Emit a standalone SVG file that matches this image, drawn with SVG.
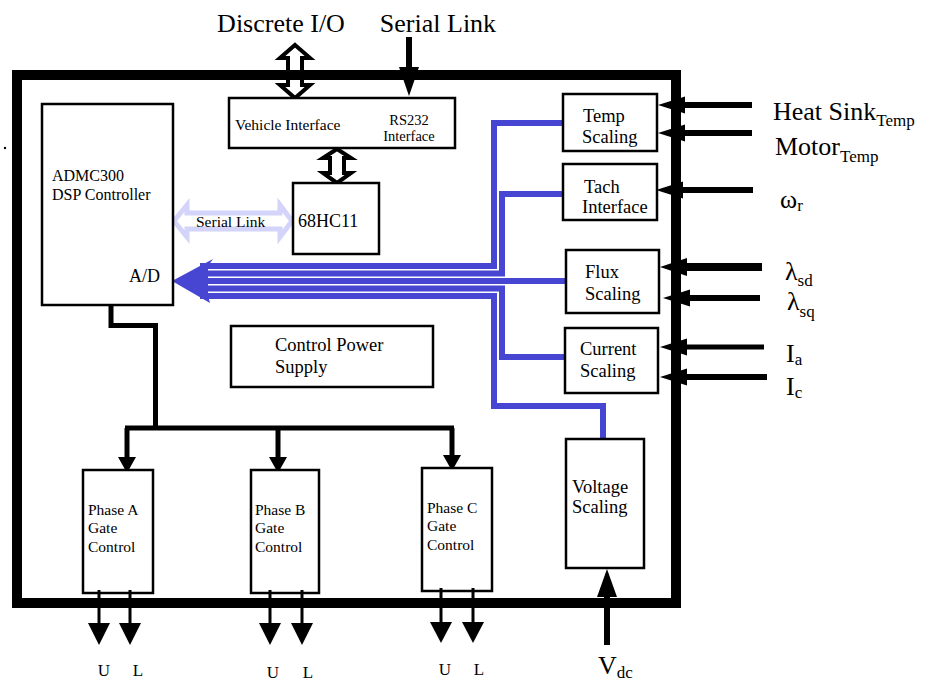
<svg xmlns="http://www.w3.org/2000/svg" width="925" height="684" viewBox="0 0 925 684">
<style>
text{font-family:"Liberation Serif","Times New Roman",serif;fill:#000}
.box{fill:#fff;stroke:#000;stroke-width:2.5}
.bl{fill:none;stroke:#4646d2;stroke-width:6}
.k{fill:none;stroke:#000}
.h{fill:#000}
.t15{font-size:15.5px}
.t14{font-size:14.5px}
.t18{font-size:18.5px}
.big{font-size:26px}
.sub{font-size:17px}
</style>
<rect width="925" height="684" fill="#fff"/>
<circle cx="5" cy="148" r="1.2" fill="#000"/>

<!-- top labels -->
<text class="big" x="281" y="32" text-anchor="middle">Discrete I/O</text>
<text class="big" x="438" y="32" text-anchor="middle">Serial Link</text>

<g id="connectors">
  <!-- hollow double arrows -->
  <path d="M295,45 L310,58 L302,58 L302,85 L310,85 L295,98 L280,85 L288,85 L288,58 L280,58 Z" fill="#fff" stroke="#000" stroke-width="4" stroke-linejoin="miter"/>
  <path d="M337,149 L351,158 L344,158 L344,173 L351,173 L337,183 L323,173 L330,173 L330,158 L323,158 Z" fill="#fff" stroke="#000" stroke-width="4"/>
  <!-- serial link in -->
  <line class="k" x1="409" y1="37" x2="409" y2="68" stroke-width="6"/>
  <polygon class="h" points="399,67 419,67 409,96"/>
  <!-- light serial link -->
  <path d="M174,221 L187,205 L187,213 L280,213 L280,205 L292,221 L280,237 L280,229 L187,229 L187,237 Z" fill="#fff" stroke="#d4d4fa" stroke-width="5"/>
  <!-- blue bus -->
  <polygon points="172,281 213,259 208,266 208,296 210,303" fill="#4646d2"/>
  <polyline class="bl" points="563,123 494,123 494,266 200,266"/>
  <polyline class="bl" points="563,194 502,194 502,273.5 200,273.5"/>
  <polyline class="bl" points="566,281 200,281"/>
  <polyline class="bl" points="200,288.5 502,288.5 502,357 566,357"/>
  <polyline class="bl" points="200,296 494,296 494,406 603,406 603,439"/>
  <!-- control tree -->
  <polyline class="k" stroke-width="5" points="111,305 111,325.5 155.5,325.5 155.5,428"/>
  <line class="k" stroke-width="5" x1="125" y1="428" x2="454" y2="428"/>
  <line class="k" stroke-width="5" x1="127" y1="428" x2="127" y2="458"/>
  <line class="k" stroke-width="5" x1="278" y1="428" x2="278" y2="458"/>
  <line class="k" stroke-width="5" x1="452" y1="428" x2="452" y2="456"/>
  <polygon class="h" points="118,457 136,457 127,473"/>
  <polygon class="h" points="269,457 287,457 278,473"/>
  <polygon class="h" points="443,455 461,455 452,471"/>
</g>

<!-- outer frame -->
<rect x="17" y="75" width="659" height="528" fill="none" stroke="#000" stroke-width="10"/>

<g id="vehicle-interface">
  <rect class="box" x="229" y="98" width="226" height="50"/>
  <text class="t15" x="235" y="130">Vehicle Interface</text>
  <text class="t14" x="409" y="125" text-anchor="middle">RS232</text>
  <text class="t14" x="409" y="141" text-anchor="middle">Interface</text>
</g>
<g id="admc300">
  <rect class="box" x="42" y="104" width="131" height="201"/>
  <text style="font-size:16px" x="52" y="181">ADMC300</text>
  <text style="font-size:16px" x="52" y="200">DSP Controller</text>
  <text style="font-size:18px" x="129" y="282">A/D</text>
</g>
<g id="hc11">
  <rect class="box" x="293" y="183" width="86" height="71"/>
  <text style="font-size:18px" x="298" y="227">68HC11</text>
</g>
<text class="t15" x="196" y="227">Serial Link</text>

<g id="temp-scaling">
  <rect class="box" x="563" y="94" width="94" height="57"/>
  <text class="t18" x="583" y="122">Temp</text>
  <text class="t18" x="582" y="143">Scaling</text>
</g>
<g id="tach-interface">
  <rect class="box" x="563" y="164" width="94" height="56"/>
  <text class="t18" x="584" y="193">Tach</text>
  <text class="t18" x="582" y="213">Interface</text>
</g>
<g id="flux-scaling">
  <rect class="box" x="566" y="250" width="93" height="63"/>
  <text class="t18" x="585" y="278">Flux</text>
  <text class="t18" x="585" y="300">Scaling</text>
</g>
<g id="current-scaling">
  <rect class="box" x="565" y="328" width="93" height="65"/>
  <text class="t18" x="580" y="355">Current</text>
  <text class="t18" x="580" y="377">Scaling</text>
</g>
<g id="voltage-scaling">
  <rect class="box" x="566" y="439" width="78" height="129"/>
  <text class="t18" x="572" y="493">Voltage</text>
  <text class="t18" x="572" y="513">Scaling</text>
</g>
<g id="control-power">
  <rect class="box" x="231" y="326" width="202" height="61"/>
  <text class="t18" x="275" y="351">Control Power</text>
  <text class="t18" x="275" y="373">Supply</text>
</g>
<g id="phase-a">
  <rect class="box" x="83" y="470" width="70" height="123"/>
  <text class="t15" x="88" y="515">Phase A</text>
  <text class="t15" x="88" y="533">Gate</text>
  <text class="t15" x="88" y="552">Control</text>
</g>
<g id="phase-b">
  <rect class="box" x="251" y="470" width="68" height="123"/>
  <text class="t15" x="255" y="515">Phase B</text>
  <text class="t15" x="255" y="533">Gate</text>
  <text class="t15" x="255" y="552">Control</text>
</g>
<g id="phase-c">
  <rect class="box" x="422" y="468" width="70" height="123"/>
  <text class="t15" x="427" y="513">Phase C</text>
  <text class="t15" x="427" y="531">Gate</text>
  <text class="t15" x="427" y="550">Control</text>
</g>

<g id="io-arrows">
  <!-- right inputs -->
  <line class="k" stroke-width="6" x1="684" y1="105" x2="752" y2="105"/>
  <polygon class="h" points="658,105 685,96.5 685,113.5"/>
  <line class="k" stroke-width="6" x1="684" y1="133" x2="752" y2="133"/>
  <polygon class="h" points="658,133 685,124.5 685,141.5"/>
  <line class="k" stroke-width="6" x1="682" y1="190" x2="753" y2="190"/>
  <polygon class="h" points="656,190 683,181.5 683,198.5"/>
  <line class="k" stroke-width="8" x1="686" y1="267" x2="762" y2="267"/>
  <polygon class="h" points="660,267 687,258 687,276"/>
  <line class="k" stroke-width="6" x1="689" y1="298" x2="760" y2="298"/>
  <polygon class="h" points="663,298 690,289.5 690,306.5"/>
  <line class="k" stroke-width="5" x1="686" y1="347" x2="764" y2="347"/>
  <polygon class="h" points="660,347 687,338.5 687,355.5"/>
  <line class="k" stroke-width="6" x1="686" y1="377" x2="767" y2="377"/>
  <polygon class="h" points="660,377 687,368.5 687,385.5"/>
  <!-- outputs -->
  <line class="k" stroke-width="3" x1="99" y1="590" x2="99" y2="624"/>
  <polygon class="h" points="88,623 110,623 99,645"/>
  <line class="k" stroke-width="3" x1="130" y1="590" x2="130" y2="624"/>
  <polygon class="h" points="119,623 141,623 130,645"/>
  <line class="k" stroke-width="3" x1="270" y1="590" x2="270" y2="624"/>
  <polygon class="h" points="259,623 281,623 270,645"/>
  <line class="k" stroke-width="3" x1="302" y1="590" x2="302" y2="624"/>
  <polygon class="h" points="291,623 313,623 302,645"/>
  <line class="k" stroke-width="3" x1="441" y1="588" x2="441" y2="623"/>
  <polygon class="h" points="430,622 452,622 441,643"/>
  <line class="k" stroke-width="3" x1="473" y1="588" x2="473" y2="623"/>
  <polygon class="h" points="462,622 484,622 473,643"/>
  <!-- Vdc -->
  <line class="k" stroke-width="6" x1="607" y1="645" x2="607" y2="596"/>
  <polygon class="h" points="607,569 597,597 617,597"/>
</g>

<g id="labels">
  <text class="big" x="773" y="120">Heat Sink<tspan class="sub" dy="6">Temp</tspan></text>
  <text class="big" x="775" y="155">Motor<tspan class="sub" dy="7">Temp</tspan></text>
  <text class="big" x="780" y="208">ω<tspan class="sub" dy="3">r</tspan></text>
  <text class="big" x="785" y="280">λ<tspan class="sub" dy="6">sd</tspan></text>
  <text class="big" x="787" y="310">λ<tspan class="sub" dy="7">sq</tspan></text>
  <text class="big" x="786" y="362">I<tspan class="sub" dy="3">a</tspan></text>
  <text class="big" x="786" y="395">I<tspan class="sub" dy="3">c</tspan></text>
  <text class="big" x="598" y="674">V<tspan class="sub" dy="4">dc</tspan></text>
  <g style="font-size:17px" text-anchor="middle">
    <text x="104" y="676">U</text><text x="138" y="676">L</text>
    <text x="273" y="678">U</text><text x="308" y="678">L</text>
    <text x="445" y="675">U</text><text x="479" y="675">L</text>
  </g>
</g>
</svg>
